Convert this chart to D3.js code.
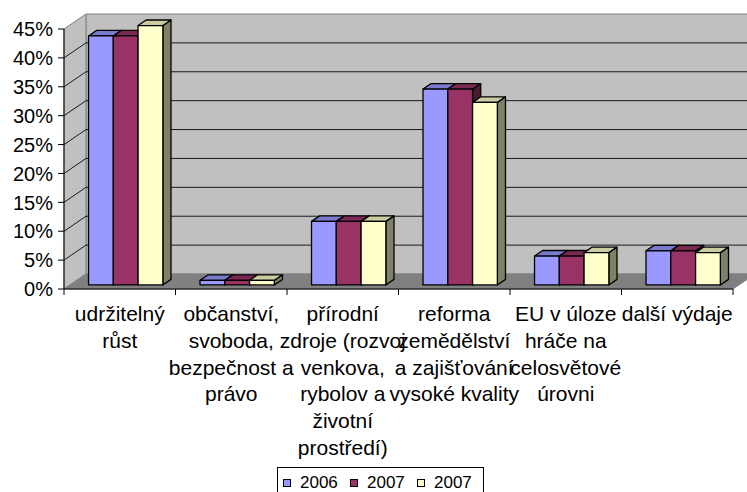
<!DOCTYPE html>
<html>
<head>
<meta charset="utf-8">
<script src="https://cdn.jsdelivr.net/npm/d3@7"></script>
<style>
  html, body { margin: 0; padding: 0; background: #ffffff; }
  svg { display: block; font-family: "Liberation Sans", Arial, sans-serif; }
</style>
</head>
<body>
<svg id="chart" width="747" height="492"></svg>
<script>
// Spending categories (label lines as wrapped under the axis)
const categories = [
  ["udržitelný", "růst"],
  ["občanství,", "svoboda,", "bezpečnost a", "právo"],
  ["přírodní", "zdroje (rozvoj", "venkova,", "rybolov a", "životní", "prostředí)"],
  ["reforma", "zemědělství", "a zajišťování", "vysoké kvality"],
  ["EU v úloze", "hráče na", "celosvětové", "úrovni"],
  ["další výdaje"]
];
const seriesNames = ["2006", "2007", "2007"];
const values2006  = [0.431, 0.008, 0.11, 0.339, 0.05, 0.059];
const values2007a = [0.431, 0.008, 0.11, 0.339, 0.05, 0.059];
const values2007b = [0.449, 0.008, 0.11, 0.316, 0.056, 0.056];
const yTicks = [0, 0.05, 0.10, 0.15, 0.20, 0.25, 0.30, 0.35, 0.40, 0.45];

const seriesValues = [values2006, values2007a, values2007b];
const frontColors = ["#9999FF", "#993366", "#FFFFCC"];

const svg = d3.select("#chart");

// Plot frame (front plane) and oblique depth vector
const plotLeft = 64, plotRight = 733, plotTop = 29, plotBottom = 289;
const depth = { dx: 22, dy: -15 };
const barPlane = 0.27, barDepth = 0.37;

const y = d3.scaleLinear().domain([0, 0.45]).range([plotBottom, plotTop]);
const x = d3.scaleBand().domain(d3.range(categories.length)).range([plotLeft, plotRight]);
const xs = d3.scaleBand().domain(d3.range(seriesValues.length))
  .range([0, x.bandwidth()]).paddingOuter(0.75).paddingInner(0);

const shade = (c, k) => { const h = d3.rgb(c); return d3.rgb(h.r * k, h.g * k, h.b * k).formatHex(); };
const pts = a => a.map(p => p.join(",")).join(" ");

const wallFill = "#C0C0C0", floorFill = "#808080", wallEdge = "#808080";

// Back wall
const bx0 = plotLeft + depth.dx, bx1 = plotRight + depth.dx;
svg.append("polygon")
  .attr("points", pts([[bx0, y(0.45) + depth.dy], [bx1, y(0.45) + depth.dy], [bx1, y(0) + depth.dy], [bx0, y(0) + depth.dy]]))
  .attr("fill", wallFill).attr("stroke", wallEdge).attr("stroke-width", 1);

// Side wall
svg.append("polygon")
  .attr("points", pts([[plotLeft, y(0.45)], [bx0, y(0.45) + depth.dy], [bx0, y(0) + depth.dy], [plotLeft, y(0)]]))
  .attr("fill", wallFill).attr("stroke", wallEdge).attr("stroke-width", 1);

// Floor
svg.append("polygon")
  .attr("points", pts([[plotLeft, y(0)], [plotRight, y(0)], [bx1, y(0) + depth.dy], [bx0, y(0) + depth.dy]]))
  .attr("fill", floorFill).attr("stroke", wallEdge).attr("stroke-width", 1);

// Gridlines on side and back walls
const grid = svg.append("g").attr("stroke", "#1a1a1a").attr("stroke-width", 1).attr("fill", "none");
yTicks.filter(t => t > 0 && t < 0.45).forEach(t => {
  grid.append("polyline")
    .attr("points", pts([[plotLeft, y(t)], [bx0, y(t) + depth.dy], [bx1, y(t) + depth.dy]]));
});

// Bars drawn left to right so that neighbours hide the inner side faces
const bars = svg.append("g").attr("stroke", "#000").attr("stroke-width", 1.3).attr("stroke-linejoin", "round");
categories.forEach((c, ci) => {
  seriesValues.forEach((vals, si) => {
    const v = vals[ci];
    const ox = barPlane * depth.dx, oy = barPlane * depth.dy;
    const ddx = barDepth * depth.dx, ddy = barDepth * depth.dy;
    const x0 = x(ci) + xs(si) + ox, x1 = x0 + xs.bandwidth();
    const y0 = y(0) + oy, y1 = y(v) + oy;
    const col = frontColors[si];
    // side face
    bars.append("polygon")
      .attr("points", pts([[x1, y0], [x1 + ddx, y0 + ddy], [x1 + ddx, y1 + ddy], [x1, y1]]))
      .attr("fill", shade(col, 0.5));
    // top face
    bars.append("polygon")
      .attr("points", pts([[x0, y1], [x1, y1], [x1 + ddx, y1 + ddy], [x0 + ddx, y1 + ddy]]))
      .attr("fill", shade(col, 0.8));
    // front face
    bars.append("rect")
      .attr("x", x0).attr("y", y1).attr("width", x1 - x0).attr("height", y0 - y1)
      .attr("fill", col);
  });
});

// Value axis
const yAxis = svg.append("g");
yAxis.append("line").attr("x1", plotLeft).attr("x2", plotLeft).attr("y1", plotTop).attr("y2", plotBottom)
  .attr("stroke", "#000").attr("stroke-width", 1);
yAxis.selectAll("line.tick").data(yTicks).join("line").attr("class", "tick")
  .attr("x1", plotLeft - 6).attr("x2", plotLeft).attr("y1", d => y(d)).attr("y2", d => y(d))
  .attr("stroke", "#000").attr("stroke-width", 1);
yAxis.selectAll("text").data(yTicks).join("text")
  .attr("x", 53).attr("y", d => y(d)).attr("dy", "0.36em")
  .attr("text-anchor", "end").attr("font-size", 20).attr("fill", "#000")
  .text(d => d3.format(".0%")(d));

// Category axis
const xAxis = svg.append("g");
xAxis.append("line").attr("x1", plotLeft).attr("x2", plotRight).attr("y1", plotBottom).attr("y2", plotBottom)
  .attr("stroke", "#000").attr("stroke-width", 1);
const bounds = d3.range(categories.length + 1).map(i => i < categories.length ? x(i) : plotRight);
xAxis.selectAll("line.tick").data(bounds).join("line").attr("class", "tick")
  .attr("x1", d => d).attr("x2", d => d).attr("y1", plotBottom).attr("y2", plotBottom + 6)
  .attr("stroke", "#000").attr("stroke-width", 1);
const labels = xAxis.selectAll("text").data(categories).join("text")
  .attr("text-anchor", "middle").attr("font-size", 21).attr("fill", "#000");
labels.each(function (lines, i) {
  const cx = x(i) + x.bandwidth() / 2;
  d3.select(this).selectAll("tspan").data(lines).join("tspan")
    .attr("x", cx).attr("y", (d, k) => 321 + k * 26.8).text(d => d);
});

// Legend
const legend = svg.append("g");
legend.append("rect").attr("x", 277.5).attr("y", 467.5).attr("width", 206).attr("height", 30)
  .attr("fill", "#fff").attr("stroke", "#000").attr("stroke-width", 1);
seriesNames.forEach((name, i) => {
  const lx = 283 + i * 67;
  legend.append("rect").attr("x", lx + 0.5).attr("y", 479.5).attr("width", 7).attr("height", 7)
    .attr("fill", frontColors[i]).attr("stroke", "#000").attr("stroke-width", 1);
  legend.append("text").attr("x", lx + 17).attr("y", 488).attr("font-size", 17).attr("fill", "#000").text(name);
});
</script>
</body>
</html>
